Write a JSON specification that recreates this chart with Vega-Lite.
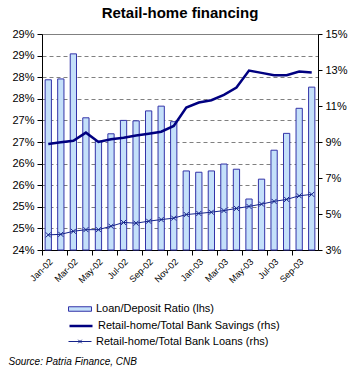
{
  "$schema": "https://vega.github.io/schema/vega-lite/v6.json",
  "width": 276,
  "height": 216,
  "autosize": {"type": "none"},
  "padding": {"left": 42, "top": 34, "right": 37, "bottom": 124},
  "background": "white",
  "config": {
    "font": "Liberation Sans",
    "view": {"stroke": "#808080", "strokeWidth": 1},
    "axis": {"labelFont": "Liberation Sans", "labelColor": "black", "domainColor": "black", "tickColor": "black", "labelFontSize": 11, "domainWidth": 1, "tickWidth": 1},
    "legend": {"labelFontSize": 11, "labelFont": "Liberation Sans", "labelColor": "black", "labelLimit": 400, "symbolSize": 100, "labelOffset": 10.5, "orient": "none", "title": null}
  },
  "title": {"text": "Retail-home financing", "fontSize": 15, "fontWeight": "bold", "font": "Liberation Sans", "anchor": "middle", "offset": 7, "color": "black"},
  "data": {"values": [
    {"month": "Jan-02", "ratio": 27.94, "savings": 8.89, "loans": 3.84},
    {"month": "Feb-02", "ratio": 27.96, "savings": 8.98, "loans": 3.87},
    {"month": "Mar-02", "ratio": 28.54, "savings": 9.07, "loans": 4.04},
    {"month": "Apr-02", "ratio": 27.06, "savings": 9.52, "loans": 4.13},
    {"month": "May-02", "ratio": 26.52, "savings": 9.0, "loans": 4.13},
    {"month": "Jun-02", "ratio": 26.69, "savings": 9.15, "loans": 4.32},
    {"month": "Jul-02", "ratio": 27.0, "savings": 9.24, "loans": 4.53},
    {"month": "Aug-02", "ratio": 26.99, "savings": 9.36, "loans": 4.49},
    {"month": "Sep-02", "ratio": 27.22, "savings": 9.46, "loans": 4.6},
    {"month": "Oct-02", "ratio": 27.33, "savings": 9.57, "loans": 4.69},
    {"month": "Nov-02", "ratio": 26.97, "savings": 9.89, "loans": 4.77},
    {"month": "Dec-02", "ratio": 25.83, "savings": 10.91, "loans": 4.97},
    {"month": "Jan-03", "ratio": 25.8, "savings": 11.19, "loans": 5.03},
    {"month": "Feb-03", "ratio": 25.83, "savings": 11.32, "loans": 5.1},
    {"month": "Mar-03", "ratio": 25.99, "savings": 11.62, "loans": 5.19},
    {"month": "Apr-03", "ratio": 25.87, "savings": 12.03, "loans": 5.31},
    {"month": "May-03", "ratio": 25.18, "savings": 12.97, "loans": 5.42},
    {"month": "Jun-03", "ratio": 25.64, "savings": 12.84, "loans": 5.55},
    {"month": "Jul-03", "ratio": 26.31, "savings": 12.71, "loans": 5.7},
    {"month": "Aug-03", "ratio": 26.7, "savings": 12.71, "loans": 5.81},
    {"month": "Sep-03", "ratio": 27.28, "savings": 12.92, "loans": 6.01},
    {"month": "Oct-03", "ratio": 27.77, "savings": 12.86, "loans": 6.09}
  ]},
  "encoding": {
    "x": {
      "field": "month", "type": "ordinal", "sort": null,
      "scale": {"paddingInner": 0, "paddingOuter": 0},
      "axis": {
        "values": ["Jan-02", "Mar-02", "May-02", "Jul-02", "Sep-02", "Nov-02", "Jan-03", "Mar-03", "May-03", "Jul-03", "Sep-03"],
        "bandPosition": 0, "labelAngle": -45, "labelFontSize": 9, "tickSize": 5, "labelPadding": 2, "grid": false,
        "title": "Source: Patria Finance, CNB", "titleX": -34, "titleY": 111, "titleAnchor": "start", "titleAlign": "left",
        "titleBaseline": "middle", "titleFontStyle": "italic", "titleFontWeight": "normal", "titleFontSize": 10, "titleColor": "black", "titleFont": "Liberation Sans"
      }
    }
  },
  "layer": [
    {
      "mark": {"type": "bar", "stroke": "#3333a8", "strokeWidth": 1, "width": {"band": 0.5}},
      "encoding": {
        "y": {"field": "ratio", "type": "quantitative", "scale": {"domain": [24, 29], "zero": false, "nice": false},
          "axis": {"values": [24, 24.5, 25, 25.5, 26, 26.5, 27, 27.5, 28, 28.5, 29], "labelExpr": "format(datum.value, '.0f') + '%'", "grid": true, "gridDash": [4, 3], "gridColor": "#808080", "tickSize": 5, "labelPadding": 3, "title": null}},
        "y2": {"datum": 24},
        "color": {
          "datum": "Loan/Deposit Ratio (lhs)",
          "scale": {"domain": ["Loan/Deposit Ratio (lhs)"], "range": ["#c4e0fa"]},
          "legend": {
            "orient": "none", "legendX": 32.5, "legendY": 269.5, "title": null,
            "symbolType": "M-2.3,-0.45H2.3V0.45H-2.3Z", "symbolStrokeColor": "#3333a8", "symbolStrokeWidth": 1, "symbolOpacity": 1
          }
        }
      }
    },
    {
      "layer": [
        {
          "mark": {"type": "line", "strokeWidth": 2.5},
          "encoding": {
            "y": {"field": "savings", "type": "quantitative", "scale": {"domain": [3, 15], "zero": false, "nice": false},
              "axis": {"orient": "right", "values": [3, 5, 7, 9, 11, 13, 15], "labelExpr": "datum.value + '%'", "grid": false, "tickSize": 4, "labelPadding": 3, "title": null}},
            "color": {
              "datum": "Retail-home/Total Bank Savings (rhs)",
              "scale": {"domain": ["Retail-home/Total Bank Savings (rhs)"], "range": ["#000080"]},
              "legend": {"orient": "none", "legendX": 32.5, "legendY": 285.5, "title": null, "symbolType": "M-2.3,0H2.3", "symbolStrokeWidth": 2.5, "symbolOpacity": 1}
            }
          }
        },
        {
          "mark": {"type": "line", "strokeWidth": 1},
          "encoding": {
            "y": {"field": "loans", "type": "quantitative", "scale": {"domain": [3, 15], "zero": false, "nice": false},
              "axis": {"orient": "right", "values": [3, 5, 7, 9, 11, 13, 15], "labelExpr": "datum.value + '%'", "grid": false, "tickSize": 4, "labelPadding": 3, "title": null}},
            "color": {
              "datum": "Retail-home/Total Bank Loans (rhs)",
              "scale": {"domain": ["Retail-home/Total Bank Loans (rhs)"], "range": ["#14228a"]},
              "legend": {"orient": "none", "legendX": 32.5, "legendY": 302, "title": null, "symbolType": "M-2.3,0H2.3M-0.35,-0.35L0.35,0.35M-0.35,0.35L0.35,-0.35", "symbolStrokeWidth": 1, "symbolOpacity": 1}
            }
          }
        },
        {
          "mark": {"type": "point", "shape": "M-1,-1L1,1M-1,1L1,-1", "size": 25, "filled": false, "stroke": "#14228a", "strokeWidth": 1, "opacity": 1},
          "encoding": {
            "y": {"field": "loans", "type": "quantitative", "scale": {"domain": [3, 15], "zero": false, "nice": false},
              "axis": {"orient": "right", "values": [3, 5, 7, 9, 11, 13, 15], "labelExpr": "datum.value + '%'", "grid": false, "tickSize": 4, "labelPadding": 3, "title": null}}
          }
        }
      ],
      "resolve": {"scale": {"color": "independent"}, "legend": {"color": "independent"}}
    }
  ],
  "resolve": {"scale": {"y": "independent", "color": "independent"}, "legend": {"color": "independent"}}
}
